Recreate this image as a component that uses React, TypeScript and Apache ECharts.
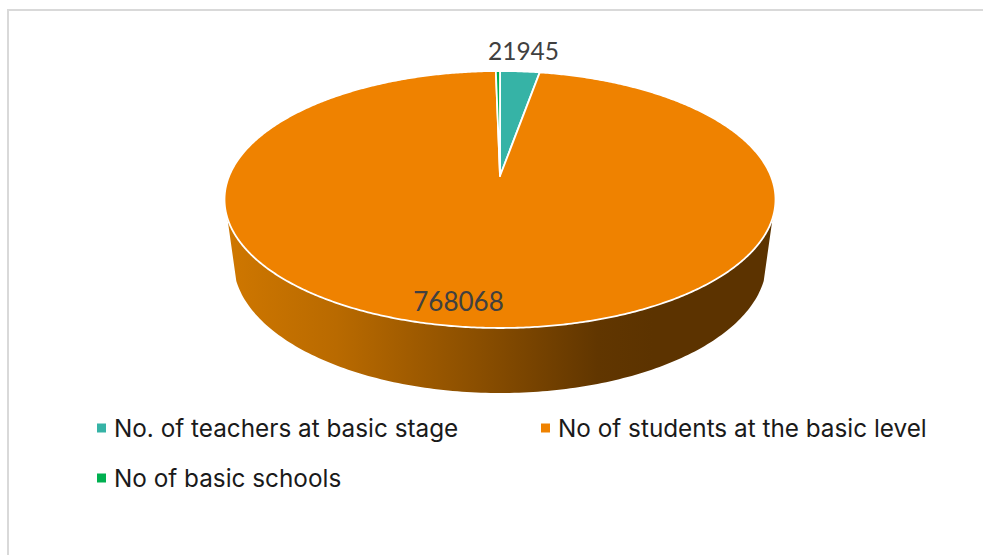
import React, { useEffect, useRef } from "react";
import * as echarts from "echarts";

const categories = ["No. of teachers at basic stage", "No of students at the basic level", "No of basic schools"];
const values = [21945, 768068, 2300];
const colors = ["#36b3a6", "#ef8200", "#00b050"];
const showLabel = [true, true, false];
const labelPos = [[523.5, 50], [458.5, 300.5], [0, 0]];
const labelFont = ["24.5px Lato", "26px Lato", "24px Lato"];
const wallStops = [
  [0, "#cf7700"], [0.2, "#b96a00"], [0.5, "#834a00"], [0.68, "#613600"], [0.78, "#5c3300"], [1, "#5c3300"],
];

const CX = 500, CY = 199.5, RX = 275.5, RY = 128.5;
const BOT_CY = 262, BOT_RX = 266.5, BOT_RY = 131;
const TILT = 0.183; // apex offset of the perspective projection
const FRONT_FROM = 98.3, FRONT_TO = 261.7;
const total = values.reduce((a, b) => a + b, 0);
const rad = (d: number) => (d * Math.PI) / 180;

// Perspective projection of a point on the pie's rim, true angle clockwise from 12 o'clock.
function project(deg: number): [number, number] {
  const u = Math.sin(rad(deg)), v = Math.cos(rad(deg));
  const w = 1 + TILT * v;
  const up = (u * Math.sqrt(1 - TILT * TILT)) / w;
  const vp = (v + TILT) / w;
  return [up, vp];
}
const toTop = (p: [number, number]): [number, number] => [CX + p[0] * RX, CY - p[1] * RY];
const rimAngle = (deg: number) => {
  const [u, v] = project(deg);
  let a = (Math.atan2(u, v) * 180) / Math.PI;
  if (a < 0) a += 360;
  if (deg >= 360) a = 360;
  return a;
};

function renderSlice(index: number) {
  return (_params: any, api: any) => {
    const value = api.value(0) as number;
    let before = 0;
    for (let i = 0; i < index; i++) before += values[i];
    const start = (before / total) * 360;
    const end = ((before + value) / total) * 360;
    const children: any[] = [];

    // side wall on the front part of the rim
    const a0 = Math.max(rimAngle(start), FRONT_FROM);
    const a1 = Math.min(rimAngle(end), FRONT_TO);
    if (a1 > a0) {
      const pts: number[][] = [];
      const n = 160;
      for (let i = 0; i <= n; i++) {
        const a = rad(a0 + ((a1 - a0) * i) / n);
        pts.push([CX + Math.sin(a) * RX, CY - Math.cos(a) * RY]);
      }
      const lo = Math.max(a0, 90), hi = Math.min(a1, 270);
      for (let i = n; i >= 0; i--) {
        const a = rad(lo + ((hi - lo) * i) / n);
        pts.push([CX + Math.sin(a) * BOT_RX, BOT_CY - Math.cos(a) * BOT_RY]);
      }
      children.push({
        type: "polygon",
        shape: { points: pts },
        style: {
          fill: new echarts.graphic.LinearGradient(0, 0, 1, 0, wallStops.map(([offset, color]) => ({ offset: offset as number, color: color as string }))),
          stroke: null,
        },
      });
    }

    // top face
    const top: number[][] = [[CX, CY - TILT * RY]];
    const steps = Math.max(2, Math.ceil(end - start) * 2);
    for (let i = 0; i <= steps; i++) top.push(toTop(project(start + ((end - start) * i) / steps)));
    children.push({
      type: "polygon",
      shape: { points: top },
      style: { fill: colors[index], stroke: "#ffffff", lineWidth: 1.8, lineJoin: "round" },
    });
    return { type: "group", children };
  };
}

function renderLabel(index: number) {
  return (_params: any, api: any) => ({
    type: "text",
    z2: 100,
    style: {
      text: String(api.value(0)),
      x: labelPos[index][0],
      y: labelPos[index][1],
      align: "center",
      verticalAlign: "middle",
      fill: "#404040",
      font: labelFont[index],
    },
  });
}

export default function App() {
  const ref = useRef<HTMLDivElement>(null);
  useEffect(() => {
    const chart = echarts.init(ref.current!, undefined, { renderer: "svg" });
    const legendText = { fontFamily: "Inter", fontSize: 24.3, color: "#1a1a1a", padding: [0, 0, 0, 3] };
    const legendBase = { orient: "horizontal", icon: "rect", itemWidth: 9, itemHeight: 9, textStyle: legendText, selectedMode: false, padding: 0 };
    chart.setOption({
      animation: false,
      backgroundColor: "#ffffff",
      legend: [
        { ...legendBase, data: [categories[0]], left: 97, top: 416 },
        { ...legendBase, data: [categories[1]], left: 541, top: 416 },
        { ...legendBase, data: [categories[2]], left: 97, top: 466 },
      ],
      graphic: [
        { type: "rect", shape: { x: 7, y: 9, width: 976, height: 2 }, style: { fill: "#d9d9d9" } },
        { type: "rect", shape: { x: 7, y: 9, width: 2, height: 546 }, style: { fill: "#d9d9d9" } },
      ],
      series: [
        ...categories.map((name, i) => ({
          type: "custom",
          name,
          coordinateSystem: "none",
          itemStyle: { color: colors[i] },
          data: [[values[i]]],
          renderItem: renderSlice(i),
          z: 2,
          silent: true,
        })),
        ...categories.flatMap((name, i) =>
          showLabel[i]
            ? [{
                type: "custom",
                name: name + " label",
                coordinateSystem: "none",
                data: [[values[i]]],
                renderItem: renderLabel(i),
                z: 5,
                silent: true,
              }]
            : []
        ),
      ],
    });
    return () => chart.dispose();
  }, []);
  return <div ref={ref} style={{ position: "absolute", left: 0, top: 0, width: 983, height: 555 }} />;
}
